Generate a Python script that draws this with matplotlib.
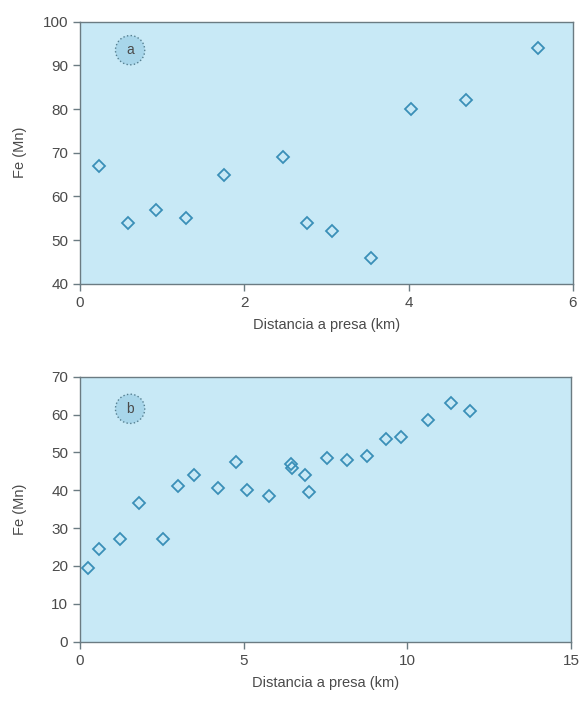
import matplotlib.pyplot as plt

plt.rcParams['font.family'] = ['Liberation Sans', 'DejaVu Sans']

# panel a
dist_a = [0.23, 0.58, 0.92, 1.29, 1.75, 2.47, 2.76, 3.07, 3.54, 4.03, 4.70, 5.58]
fe_mn_a = [67, 54, 57, 55, 65, 69, 54, 52, 46, 80, 82, 94]

# panel b
dist_b = [0.23, 0.58, 1.22, 1.79, 2.53, 2.98, 3.49, 4.21, 4.75, 5.10, 5.77,
          6.44, 6.46, 6.87, 6.99, 7.53, 8.15, 8.76, 9.34, 9.81, 10.63, 11.34, 11.91]
fe_mn_b = [19.5, 24.5, 27, 36.5, 27, 41, 44, 40.5, 47.5, 40, 38.5,
           47, 46, 44, 39.5, 48.5, 48, 49, 53.5, 54, 58.5, 63, 61]

bg = '#c8e9f6'
mk = '#3a8fb8'
spine_col = '#6b7b82'
txt_col = '#4a4a4a'

fig = plt.figure(figsize=(5.84, 7.04), dpi=100)
ax_a = fig.add_axes([0.137, 0.597, 0.844, 0.372])
ax_b = fig.add_axes([0.137, 0.0885, 0.841, 0.3765])


def style(ax, xlim, ylim, xticks, yticks, label):
    ax.set_facecolor(bg)
    ax.set_xlim(*xlim)
    ax.set_ylim(*ylim)
    ax.set_xticks(xticks)
    ax.set_yticks(yticks)
    for s in ax.spines.values():
        s.set_color(spine_col)
        s.set_linewidth(1.0)
    ax.tick_params(direction='out', length=5, width=1, color=spine_col,
                   labelcolor=txt_col, labelsize=11)
    ax.set_xlabel('Distancia a presa (km)', color=txt_col, fontsize=10.5, labelpad=6)
    ax.set_ylabel('Fe (Mn)', color=txt_col, fontsize=10.5)
    ax.yaxis.set_label_coords(-0.108, 0.5)
    ax.text(*label[:2], label[2], ha='center', va='center', fontsize=10, color=txt_col,
            bbox=dict(boxstyle='circle,pad=0.55', fc='#a8d6ea', ec='#557f90', ls=':', lw=1))


ax_a.plot(dist_a, fe_mn_a, linestyle='none', marker='D', markersize=6.5,
          markerfacecolor='none', markeredgecolor=mk, markeredgewidth=1.3)
style(ax_a, (0, 6), (40, 100), [0, 2, 4, 6], range(40, 101, 10), (0.61, 93.5, 'a'))

ax_b.plot(dist_b, fe_mn_b, linestyle='none', marker='D', markersize=6.5,
          markerfacecolor='none', markeredgecolor=mk, markeredgewidth=1.3)
style(ax_b, (0, 15), (0, 70), [0, 5, 10, 15], range(0, 71, 10), (1.53, 61.5, 'b'))

fig.savefig('out.png', dpi=100)
